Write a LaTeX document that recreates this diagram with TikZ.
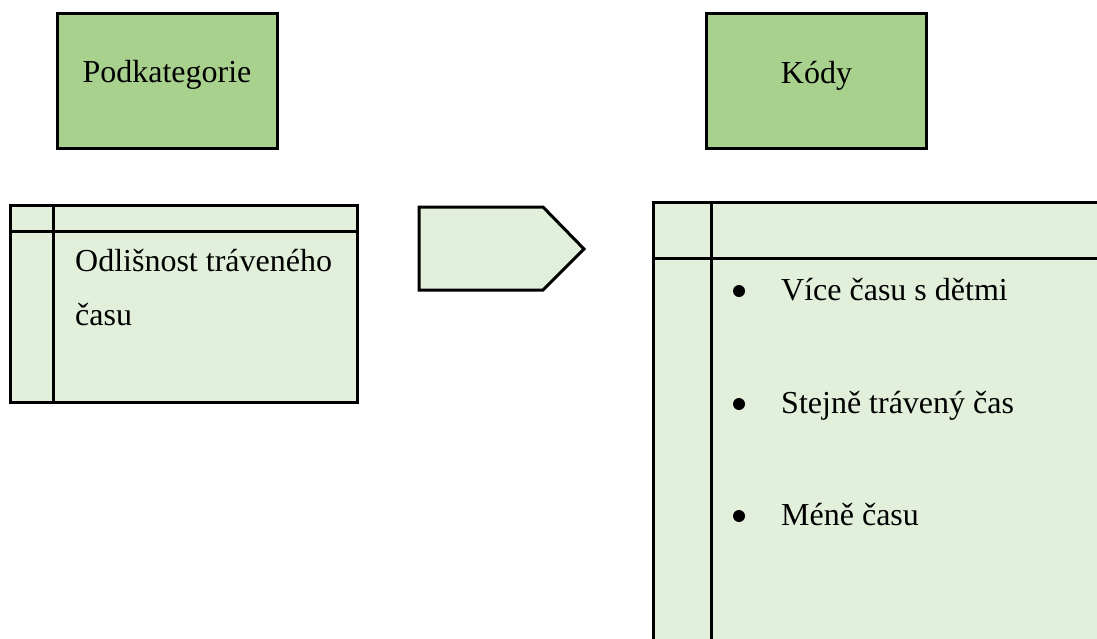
\documentclass[tikz,border=0pt]{standalone}
\usepackage{fontspec}
\setmainfont{Liberation Serif}
\definecolor{darkgreen}{HTML}{A9D18E}
\definecolor{lightgreen}{HTML}{E2EFDA}
\begin{document}
\begin{tikzpicture}[x=1pt,y=-1pt,
  line join=miter,
  frame/.style={draw=black, line width=3pt},
  headbox/.style={frame, fill=darkgreen, minimum width=220pt, minimum height=135pt, inner sep=0pt},
  txt/.style={font=\fontsize{32}{38}\selectfont, inner sep=0pt, anchor=base west},
  ctxt/.style={font=\fontsize{32}{38}\selectfont, inner sep=0pt, anchor=base},
  bullet/.style={circle, fill=black, minimum size=12pt, inner sep=0pt}]
\useasboundingbox (0,0) rectangle (1097,638);
\clip (0,0) rectangle (1097,638);
% header boxes
\node[headbox] (podbox) at (167,80.5) {};
\node[ctxt] (podtxt) at (167,82) {Podkategorie};
\node[headbox] (kodbox) at (816.5,80.5) {};
\node[ctxt] (kodtxt) at (816.5,83) {Kódy};
% left table
\draw[frame, fill=lightgreen] (10,205) rectangle (357,402);
\draw[frame] (53,205) -- (53,402);
\draw[frame] (10,231) -- (357,231);
\node[txt] (l1) at (75,271) {Odlišnost tráveného};
\node[txt] (l2) at (75,325) {času};
% arrow pentagon
\draw[frame, fill=lightgreen] (419,207) -- (543,207) -- (584,249) -- (543,290) -- (419,290) -- cycle;
% right table
\draw[frame, fill=lightgreen] (653,202) rectangle (1120,660);
\draw[frame] (711,202) -- (711,660);
\draw[frame] (653,258) -- (1120,258);
\node[bullet] (b1) at (739,291) {};
\node[txt] (r1) at (781,300) {Více času s dětmi};
\node[bullet] (b2) at (739,404) {};
\node[txt] (r2) at (781,413) {Stejně trávený čas};
\node[bullet] (b3) at (739,516) {};
\node[txt] (r3) at (781,525) {Méně času};
\end{tikzpicture}
\end{document}
